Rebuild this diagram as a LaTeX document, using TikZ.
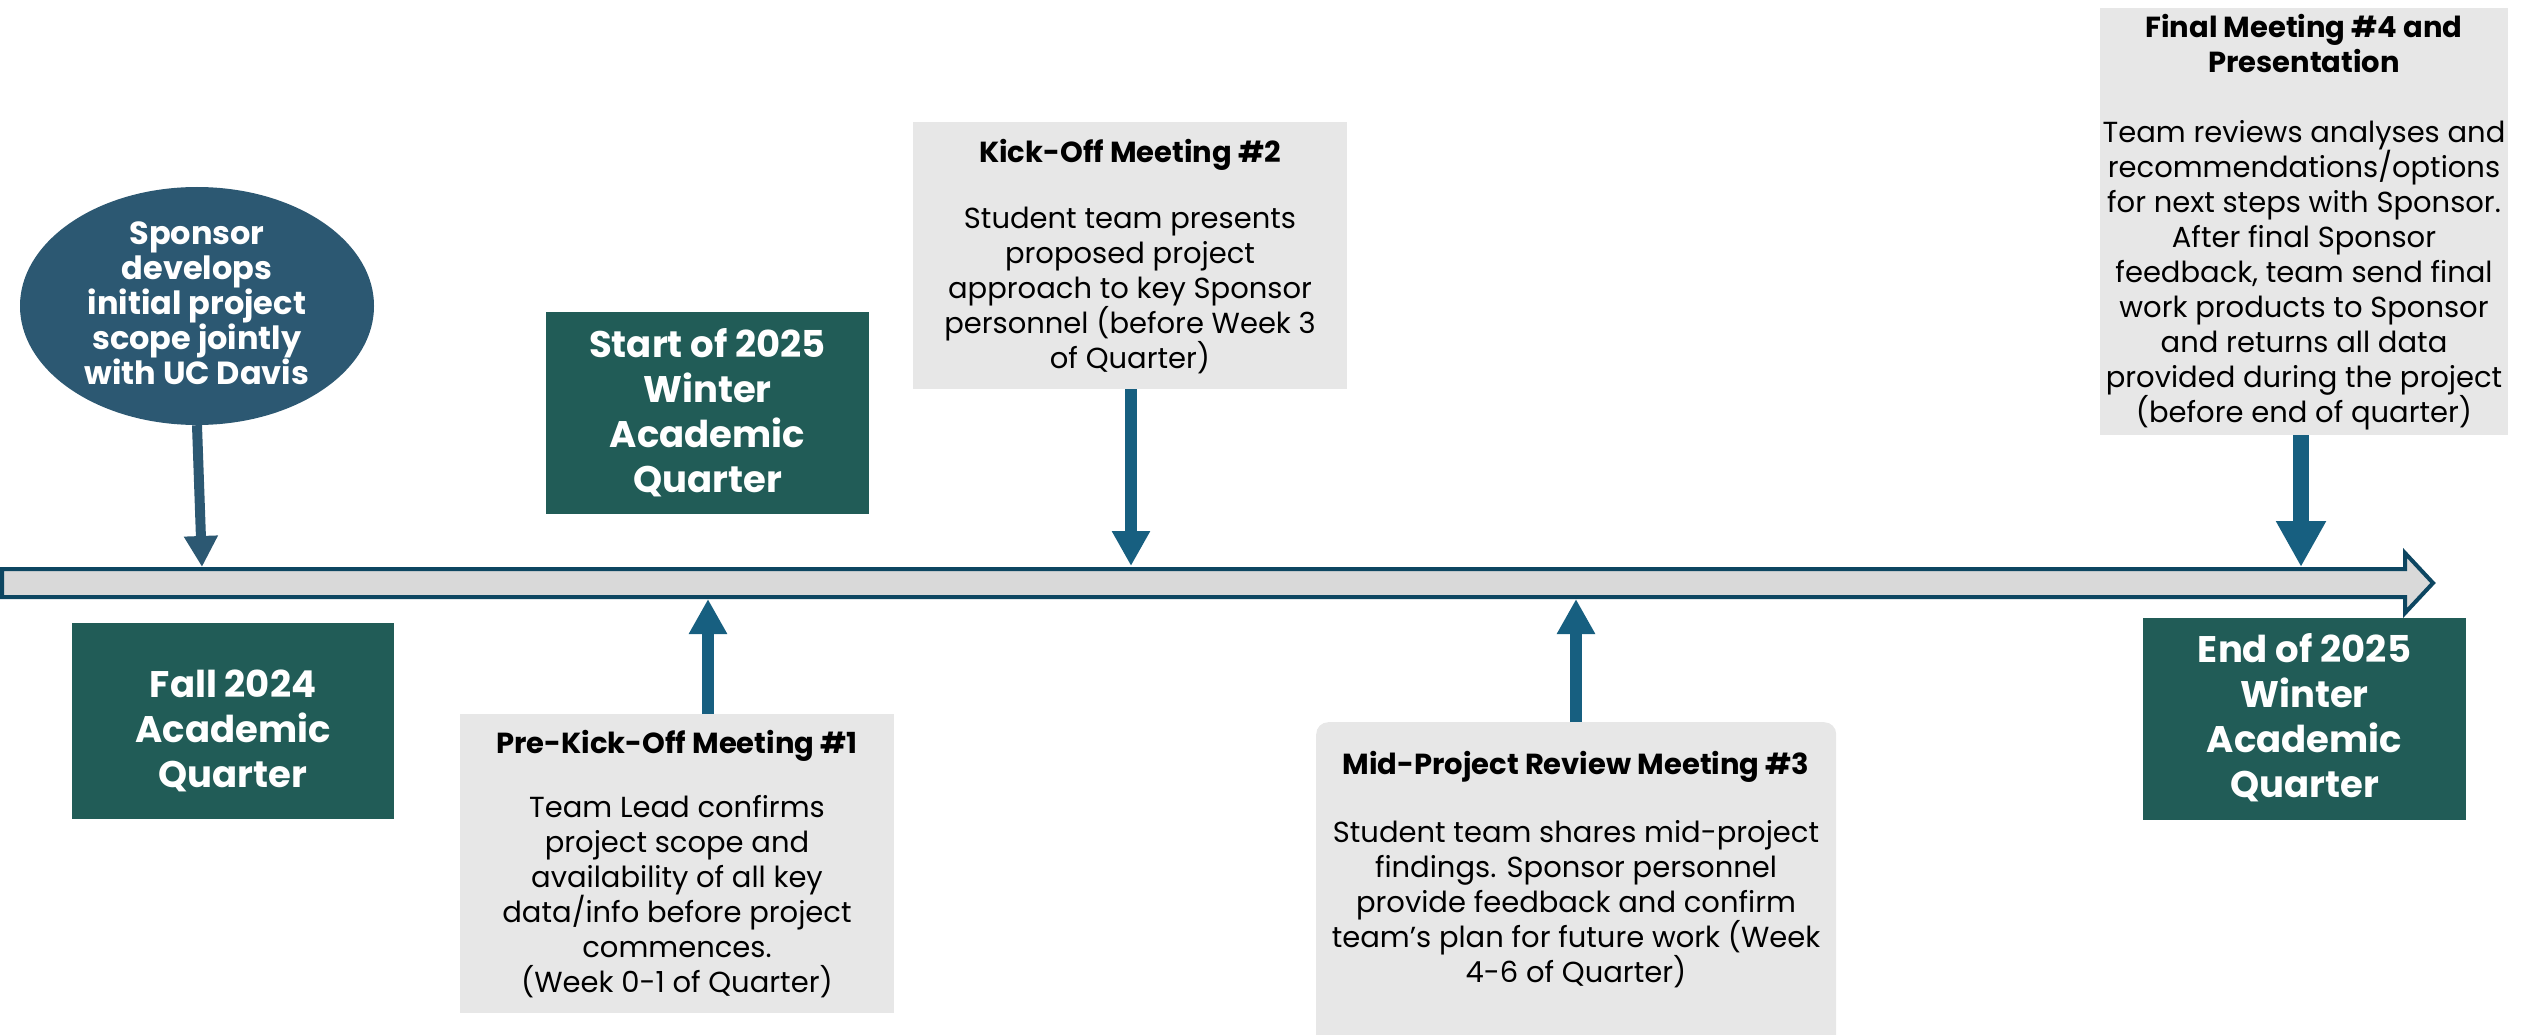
\documentclass[tikz,border=0pt]{standalone}
\usepackage{fontspec}
\setmainfont{Poppins}
\usetikzlibrary{shapes.geometric,arrows.meta}
\definecolor{ellblue}{HTML}{2C5872}
\definecolor{tealgreen}{HTML}{215C57}
\definecolor{arrblue}{HTML}{175F80}
\definecolor{barline}{HTML}{0D4661}
\definecolor{barfill}{HTML}{D9D9D9}
\definecolor{cardgray}{HTML}{E7E7E7}
\begin{document}
\begin{tikzpicture}[x=1pt,y=-1pt,
  greenbox/.style={fill=tealgreen, draw=none, inner sep=0, anchor=north west},
  card/.style={fill=cardgray, draw=none, inner sep=0, anchor=north west},
  bigtxt/.style={text=white, font=\fontsize{37}{45}\selectfont\bfseries, align=center, inner sep=0, anchor=base},
  elltxt/.style={text=white, font=\fontsize{32}{35}\selectfont\bfseries, align=center, inner sep=0, anchor=base},
  cardtxt/.style={text=black, font=\fontsize{29}{35}\selectfont, align=center, inner sep=0, anchor=base},
  conn/.style={draw=arrblue, line width=12pt, -{Triangle[length=35pt,width=36pt]}},
]
\useasboundingbox (0,0) rectangle (2524,1035);

% timeline bar
\draw[barline, line width=4pt, fill=barfill, line join=miter]
  (2,569) -- (2405,569) -- (2405,553) -- (2433,583) -- (2405,613) -- (2405,597) -- (2,597) -- cycle;

% arrow tip coordinates on the bar
\coordinate (spontip) at (202,567);
\coordinate (pretip) at (708,599);
\coordinate (kicktip) at (1131,566);
\coordinate (midtip) at (1576,599);
\coordinate (fintip) at (2301,567);

% sponsor ellipse
\node[ellipse, fill=ellblue, minimum width=354pt, minimum height=238pt, inner sep=0] (spon) at (197,306) {};
\node[elltxt] (spontxt) at (197,384) {Sponsor\\develops\\initial project\\scope jointly\\with UC Davis};

% green boxes
\node[greenbox, minimum width=322pt, minimum height=196pt] (fall) at (72,623) {};
\node[bigtxt] (falltxt) at (233,787) {Fall 2024\\Academic\\Quarter};

\node[greenbox, minimum width=323pt, minimum height=202pt] (start) at (546,312) {};
\node[bigtxt] (starttxt) at (707.5,492) {Start of 2025\\Winter\\Academic\\Quarter};

\node[greenbox, minimum width=323pt, minimum height=202pt] (endq) at (2143,618) {};
\node[bigtxt] (endtxt) at (2304.5,797) {End of 2025\\Winter\\Academic\\Quarter};

% cards
\node[card, minimum width=434pt, minimum height=299pt] (pre) at (460,714) {};
\node[cardtxt] (pretxt) at (677,992) {\textbf{Pre-Kick-Off Meeting \#1}\\[29pt]Team Lead confirms\\project scope and\\availability of all key\\data/info before project\\commences.\\(Week 0-1 of Quarter)};

\node[card, minimum width=434pt, minimum height=267pt] (kick) at (913,122) {};
\node[cardtxt] (kicktxt) at (1130,368) {\textbf{Kick-Off Meeting \#2}\\[31pt]Student team presents\\proposed project\\approach to key Sponsor\\personnel (before Week 3\\of Quarter)};

\node[card, minimum width=520pt, minimum height=330pt, rounded corners=12pt] (mid) at (1316,722) {};
\node[cardtxt] (midtxt) at (1576,982) {\textbf{Mid-Project Review Meeting \#3}\\[33pt]Student team shares mid-project\\findings. Sponsor personnel\\provide feedback and confirm\\team’s plan for future work (Week\\4-6 of Quarter)};

\node[card, minimum width=408pt, minimum height=427pt] (fin) at (2100,8) {};
\node[cardtxt] (fintxt) at (2304,422) {\textbf{Final Meeting \#4 and}\\\textbf{Presentation}\\[35pt]Team reviews analyses and\\recommendations/options\\for next steps with Sponsor.\\After final Sponsor\\feedback, team send final\\work products to Sponsor\\and returns all data\\provided during the project\\(before end of quarter)};

% connectors
\draw[conn, draw=ellblue, line width=10pt, -{Triangle[length=31pt,width=32pt]}] (spon.south) -- (spontip);
\draw[conn] (pre.north -| pretip) -- (pretip);
\draw[conn] (kick.south -| kicktip) -- (kicktip);
\draw[conn] (mid.north -| midtip) -- (midtip);
\draw[conn, line width=16pt, -{Triangle[length=46pt,width=47pt]}] (fin.south -| fintip) -- (fintip);
\end{tikzpicture}
\end{document}
